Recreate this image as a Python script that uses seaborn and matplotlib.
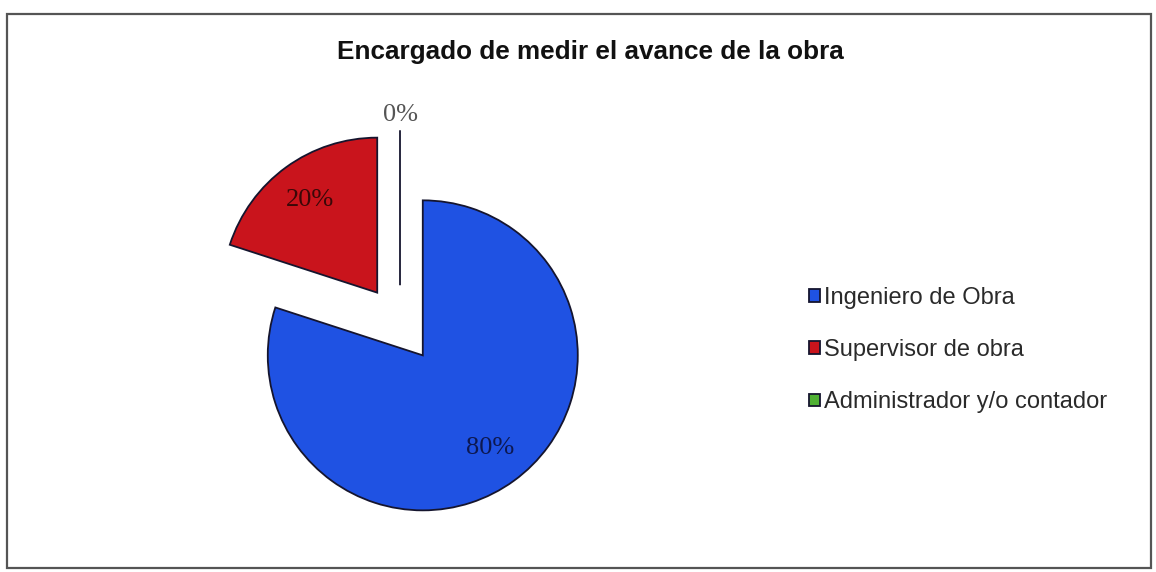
import matplotlib
matplotlib.use("Agg")
import matplotlib.pyplot as plt
from matplotlib.patches import Rectangle
import seaborn as sns

# Survey result: who measures the progress of the construction work
categories = ["Ingeniero de Obra", "Supervisor de obra", "Administrador y/o contador"]
shares = [80, 20, 0]
colors = ["#1f52e3", "#c9141c", "#4fb033"]
label_colors = ["#0d1850", "#3a0808", "#555555"]
title = "Encargado de medir el avance de la obra"

sns.set_theme(style="white")
plt.rcParams["font.family"] = ["Liberation Sans", "DejaVu Sans"]

W, H = 1156, 572
fig = plt.figure(figsize=(W / 100, H / 100), dpi=100)
fig.patch.set_facecolor("white")

# chart frame
fig.add_artist(Rectangle((7 / W, 4 / H), (W - 12) / W, (H - 18) / H,
                         transform=fig.transFigure, fill=False,
                         edgecolor="#555555", linewidth=1.6))

# axes in units of the pie radius (155 px), pie centred at (400, 324) px from top-left
R = 155.0
cx, cy = 400.0, 324.0
ax = fig.add_axes([0, 0, 1, 1])
ax.set_xlim(-cx / R, (W - cx) / R)
ax.set_ylim(-(H - cy) / R, cy / R)

total = sum(shares)
# zero-valued slices get their percentage outside the rim, others inside
outer_labels = [f"{v / total * 100:.0f}%" if v == 0 else "" for v in shares]

wedges, texts, autotexts = ax.pie(
    shares,
    colors=colors,
    labels=outer_labels,
    labeldistance=1.1,
    autopct=lambda p: f"{p:.0f}%" if p > 0 else "",
    pctdistance=0.74,
    startangle=90,
    counterclock=False,
    explode=[0.25, 0.25, 0.25],
    radius=1,
    frame=True,
    wedgeprops=dict(edgecolor="#15152e", linewidth=1.3),
    textprops=dict(family=["Liberation Serif", "DejaVu Serif"], fontsize=19),
)
for t, c in zip(autotexts, label_colors):
    t.set_color(c)
for t, c in zip(texts, label_colors):
    t.set_color(c)
    t.set_horizontalalignment("center")

ax.set_xlim(-cx / R, (W - cx) / R)
ax.set_ylim(-(H - cy) / R, cy / R)
ax.set_aspect("equal")
ax.axis("off")

fig.text(590 / W, 1 - 52 / H, title, ha="center", va="center",
         fontsize=18.8, fontweight="bold", color="#111111")

leg = fig.legend(wedges, categories, loc="upper left",
                 bbox_to_anchor=(809 / W, 1 - 287 / H),
                 frameon=False, fontsize=17, handlelength=0.45,
                 handleheight=0.45, handletextpad=0.2, labelspacing=1.28,
                 borderaxespad=0, borderpad=0)
for txt in leg.get_texts():
    txt.set_color("#2a2a2a")

fig.savefig("out.png", dpi=100, facecolor="white")
